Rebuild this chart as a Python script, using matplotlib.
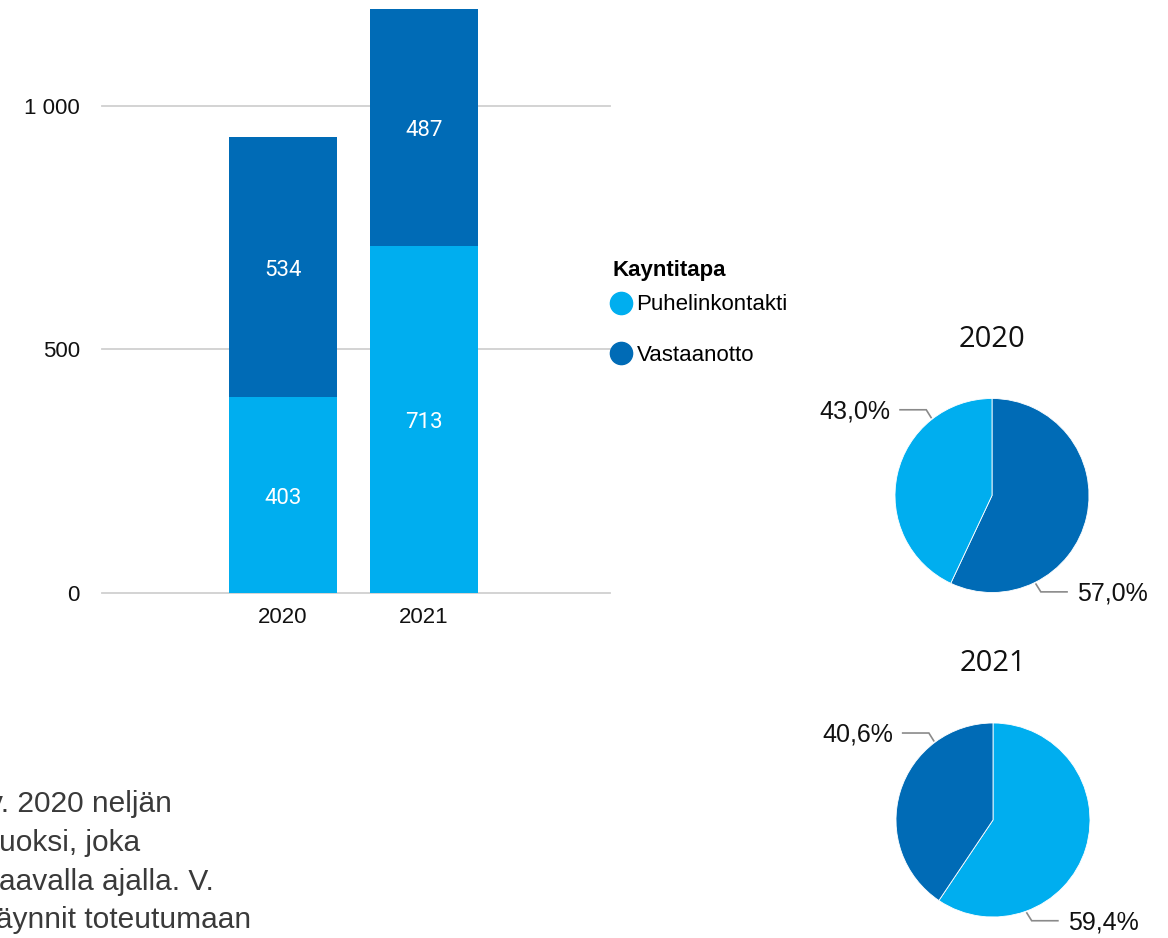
import matplotlib
matplotlib.use('Agg')
import matplotlib.pyplot as plt
from matplotlib.lines import Line2D
from matplotlib.ticker import FuncFormatter
import numpy as np

# ---------------- data ----------------
years = ['2020', '2021']
puhelin = [403, 713]
vastaanotto = [534, 487]
series_names = ['Puhelinkontakti', 'Vastaanotto']
legend_title = 'Kayntitapa'
yticks = [0, 500, 1000]
body_lines = ['v. 2020 neljän', 'vuoksi, joka', 'vastaavalla ajalla. V.', 'käynnit toteutumaan']

# ---------------- style ----------------
LIGHT = '#00AEEF'
DARK = '#006BB6'
W, H = 1168, 938
plt.rcParams['font.family'] = ['Liberation Sans', 'DejaVu Sans']

fig = plt.figure(figsize=(W / 100, H / 100), dpi=100)

# ---------------- stacked bar chart ----------------
ax = fig.add_axes([102 / W, (H - 593) / H, 508 / W, 593 / H])
x = np.arange(len(years))
b1 = ax.bar(x, puhelin, width=0.766, color=LIGHT, zorder=3)
b2 = ax.bar(x, vastaanotto, bottom=puhelin, width=0.766, color=DARK, zorder=3)
for bars in (b1, b2):
    anns = ax.bar_label(bars, label_type='center', color='white', fontsize=16,
                        family='Roboto')
    for a in anns:
        a.xyann = (0, -2.5)
ax.set_xlim(-1.284, 2.32)
ax.set_ylim(0, 1217.6)
ax.set_yticks(yticks)
ax.yaxis.set_major_formatter(FuncFormatter(lambda v, p: f'{int(v):,}'.replace(',', ' ')))
ax.set_xticks(x, years)
ax.grid(axis='y', color='#d0d0d0', lw=1.3, zorder=0)
ax.set_axisbelow(True)
for gl in ax.get_ygridlines():
    gl.set_clip_on(False)
for s in ax.spines.values():
    s.set_visible(False)
ax.tick_params(axis='y', length=0, pad=16, labelsize=16, labelcolor='#111111')
ax.tick_params(axis='x', length=0, pad=10, labelsize=16, labelcolor='#111111')

# ---------------- legend ----------------
handles = [Line2D([], [], marker='o', ls='', ms=16, color=c) for c in (LIGHT, DARK)]
leg = fig.legend(handles, series_names, title=legend_title, loc='upper left',
                 bbox_to_anchor=(612 / W, 1 - 260 / H), frameon=False, fontsize=16,
                 title_fontproperties={'weight': 'bold', 'size': 16},
                 alignment='left', handlelength=0.8, handletextpad=0.3,
                 labelspacing=1.33, borderpad=0, borderaxespad=0)
leg._legend_box.sep = 9.6

# ---------------- pies ----------------
def pie_axes(cx, cy, r, top, bottom, left=800, right=1168):
    a = fig.add_axes([left / W, (H - bottom) / H, (right - left) / W, (bottom - top) / H])
    a._lims = ((left - cx) / r, (right - cx) / r, -(bottom - cy) / r, (cy - top) / r)
    return a

pie_layout = [(992, 495.5, 97, 300, 625), (993, 820, 97, 625, 938)]
label_angles = [[-63.6, 128.0], [-70.0, 126.8]]  # larger slice, smaller slice

for i, (cx, cy, r, top, bottom) in enumerate(pie_layout):
    vals = np.array([puhelin[i], vastaanotto[i]], dtype=float)
    cols = [LIGHT, DARK]
    order = np.argsort(-vals)
    pa = pie_axes(cx, cy, r, top, bottom)
    pa.pie(vals[order], colors=[cols[j] for j in order], startangle=90,
           counterclock=False, radius=1,
           wedgeprops=dict(linewidth=0.6, edgecolor='white'))
    x0, x1, y0, y1 = pa._lims
    pa.set_xlim(x0, x1)
    pa.set_ylim(y0, y1)
    pa.set_aspect('auto')
    pa.axis('off')
    pa.text(0, 1.61, years[i], ha='center', va='center', fontsize=21,
            family='Open Sans', color='#111111')
    pcts = vals[order] / vals.sum() * 100
    for k, (p, ang) in enumerate(zip(pcts, label_angles[i])):
        t = np.deg2rad(ang)
        sx, sy = 1.02 * np.cos(t), 1.02 * np.sin(t)
        sgn = 1 if np.cos(t) > 0 else -1
        vy = 1 if np.sin(t) > 0 else -1
        ex, ey = sx + sgn * 0.05, sy + vy * 0.08
        fx = ex + sgn * 0.27
        pa.plot([sx, ex, fx], [sy, ey, ey], color='#8a8a8a', lw=1.2,
                clip_on=False, solid_joinstyle='miter')
        pa.text(fx + sgn * 0.1, ey - 0.02, f'{p:.1f}%'.replace('.', ','),
                ha='left' if sgn > 0 else 'right', va='center', fontsize=18,
                color='#111111')

# ---------------- clipped body text ----------------
EM = 21.5 * 100 / 72  # em size in pixels
body_x = [-11.6, -0.5 * EM - 1, -1.834 * EM - 1, -19]
body_y = [812, 851, 890, 928]
for txt, bx, by in zip(body_lines, body_x, body_y):
    fig.text(bx / W, 1 - by / H, txt, ha='left', va='baseline', fontsize=21.5,
             color='#3a3a3a')

fig.savefig('out.png', dpi=100)
